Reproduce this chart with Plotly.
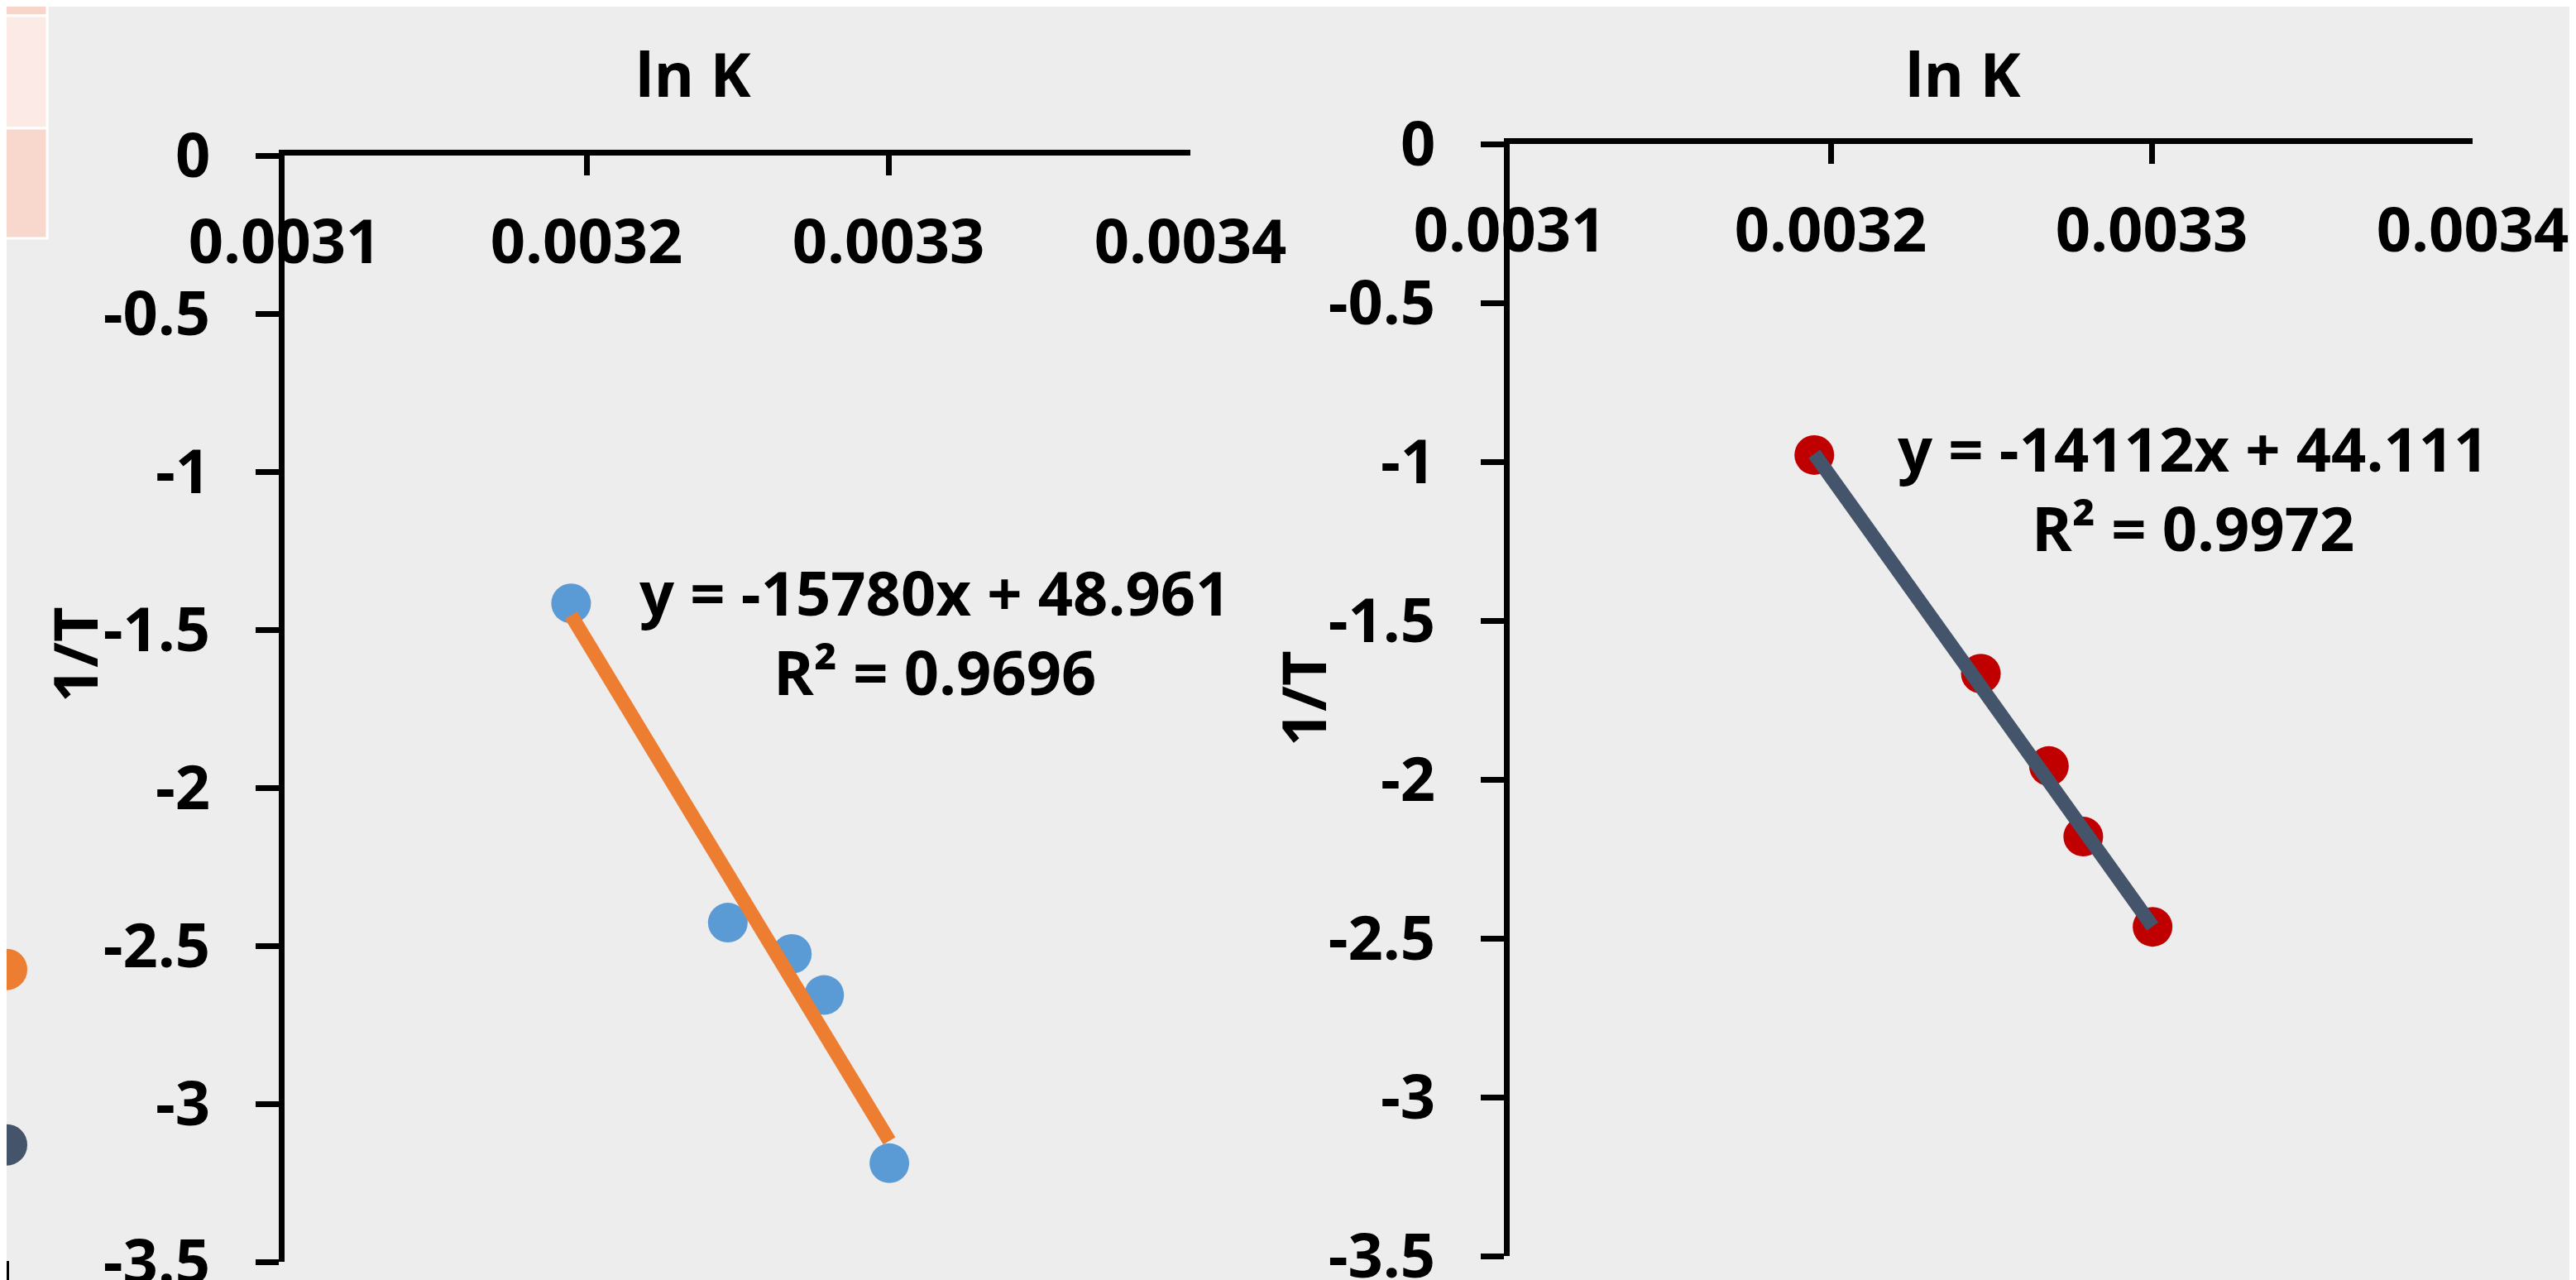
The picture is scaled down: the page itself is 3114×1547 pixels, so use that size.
import plotly.graph_objects as go

W, H = 3114, 1547

# ---------------- data ----------------
inv_T = [0.0031949, 0.0032468, 0.0032680, 0.0032787, 0.0033003]
left_y = [-1.417, -2.427, -2.526, -2.656, -3.188]
right_y = [-0.979, -1.667, -1.958, -2.180, -2.464]

left_slope, left_intercept, left_r2 = -15780, 48.961, 0.9696
right_slope, right_intercept, right_r2 = -14112, 44.111, 0.9972

x_ticks = [0.0031, 0.0032, 0.0033, 0.0034]
x_tick_text = ["0.0031", "0.0032", "0.0033", "0.0034"]
y_ticks = [0, -0.5, -1, -1.5, -2, -2.5, -3, -3.5]
y_tick_text = ["0", "-0.5", "-1", "-1.5", "-2", "-2.5", "-3", "-3.5"]

x_title = "ln K"
y_title = "1/T"

# partially visible series of a neighbouring chart (cut at the left edge)
neighbor_x = [0, 0]
neighbor_y = [-2.575, -3.13]
neighbor_colors = ["#ED7D31", "#44546A"]

# ---------------- helpers ----------------
def px(x):
    return x / W

def py(y):
    return 1 - y / H

FONT = dict(family="Open Sans", size=74, color="black", weight="bold")
BG = "#EDEDED"

fig = go.Figure()

# trend line end points from the fitted equations
xmin, xmax = min(inv_T), max(inv_T)
left_trend_y = [left_slope * xmin + left_intercept, left_slope * xmax + left_intercept]
right_trend_y = [right_slope * xmin + right_intercept, right_slope * xmax + right_intercept]

# left chart
fig.add_trace(go.Scatter(x=inv_T, y=left_y, mode="markers", xaxis="x", yaxis="y",
                         marker=dict(color="#5B9BD5", size=48), cliponaxis=False,
                         showlegend=False))
fig.add_trace(go.Scatter(x=[xmin, xmax], y=left_trend_y, mode="lines", xaxis="x", yaxis="y",
                         line=dict(color="#ED7D31", width=17), cliponaxis=False,
                         showlegend=False))
# right chart
fig.add_trace(go.Scatter(x=inv_T, y=right_y, mode="markers", xaxis="x2", yaxis="y2",
                         marker=dict(color="#C00000", size=48), cliponaxis=False,
                         showlegend=False))
fig.add_trace(go.Scatter(x=[xmin, xmax], y=right_trend_y, mode="lines", xaxis="x2", yaxis="y2",
                         line=dict(color="#44546A", width=17), cliponaxis=False,
                         showlegend=False))
# neighbour chart fragments
fig.add_trace(go.Scatter(x=neighbor_x, y=neighbor_y, mode="markers", xaxis="x3", yaxis="y3",
                         marker=dict(color=neighbor_colors, size=50), cliponaxis=False,
                         showlegend=False))

def xaxis_cfg(domain, anchor):
    return dict(domain=domain, anchor=anchor, range=[0.0031, 0.0034], side="top",
                showline=True, linecolor="black", linewidth=7,
                ticks="inside", ticklen=24, tickwidth=7, tickcolor="black",
                tickvals=x_ticks, ticktext=x_tick_text, tickfont=FONT,
                ticklabelposition="inside", ticklabelstandoff=66,
                ticklabeloverflow="allow", automargin=False,
                showgrid=False, zeroline=False, fixedrange=True)

def yaxis_cfg(domain, anchor):
    return dict(domain=domain, anchor=anchor, range=[-3.5, 0],
                showline=True, linecolor="black", linewidth=7,
                ticks="outside", ticklen=28, tickwidth=7, tickcolor="black",
                tickvals=y_ticks, ticktext=y_tick_text, tickfont=FONT,
                ticklabelstandoff=40, ticklabeloverflow="allow", automargin=False,
                showgrid=False, zeroline=False, fixedrange=True)

fig.update_layout(
    width=W, height=H,
    margin=dict(l=0, r=0, t=0, b=0, pad=0, autoexpand=False),
    paper_bgcolor=BG, plot_bgcolor="rgba(0,0,0,0)",
    xaxis=xaxis_cfg([px(336), px(1431)], "y"),
    yaxis=yaxis_cfg([py(1517), py(180)], "x"),
    xaxis2=xaxis_cfg([px(1817), px(2981)], "y2"),
    yaxis2=yaxis_cfg([py(1510), py(166)], "x2"),
    xaxis3=dict(domain=[0, 0.05], range=[0, 1], visible=False, anchor="y3", automargin=False),
    yaxis3=dict(domain=[py(1517), py(180)], range=[-3.5, 0], visible=False, anchor="x3",
                automargin=False),
)

annotations = [
    dict(text=x_title, x=px(830), y=py(80)),
    dict(text=x_title, x=px(2365), y=py(80)),
    dict(text=y_title, x=px(81), y=py(783), textangle=-90),
    dict(text=y_title, x=px(1566), y=py(836), textangle=-90),
    dict(text=f"y = {left_slope}x + {left_intercept}<br>R² = {left_r2}",
         x=px(1122), y=py(755), align="center"),
    dict(text=f"y = {right_slope}x + {right_intercept}<br>R² = {right_r2}",
         x=px(2643), y=py(581), align="center"),
]
for a in annotations:
    a.update(xref="paper", yref="paper", showarrow=False, font=FONT,
             xanchor="center", yanchor="middle")
fig.update_layout(annotations=annotations)

# cropped spreadsheet cells at the top-left corner
cells = [(0, -5, 49, 11, "#F8D5C9"), (0, 11, 49, 147, "#FBEAE5"), (0, 147, 49, 280, "#F8D7CC")]
shapes = []
for x0, y0, x1, y1, c in cells:
    shapes.append(dict(type="rect", xref="paper", yref="paper",
                       x0=px(x0 - 5), x1=px(x1), y0=py(y1), y1=py(y0),
                       fillcolor=c, line=dict(color="white", width=3), layer="below"))
shapes.append(dict(type="line", xref="paper", yref="paper", x0=px(1), x1=px(1),
                   y0=py(1547), y1=py(1516), line=dict(color="black", width=4)))
fig.update_layout(shapes=shapes)

fig.write_html("out.html")
